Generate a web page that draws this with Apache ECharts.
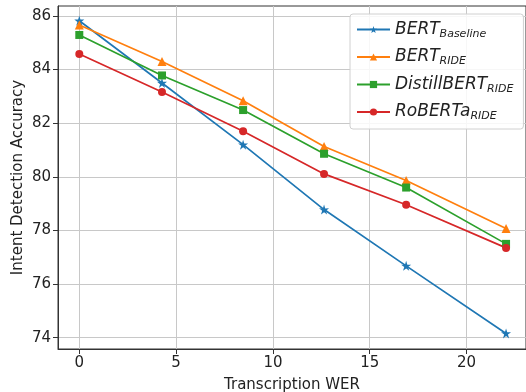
<!DOCTYPE html>
<html>
<head>
<meta charset="utf-8">
<script src="https://cdn.jsdelivr.net/npm/echarts@6/dist/echarts.min.js"></script>
<style>
  html, body { margin: 0; padding: 0; background: #fff; }
  #chart { width: 526px; height: 392px; }
</style>
</head>
<body>
<div id="chart"></div>
<script>
// transcription WER (x)
var werValues = [0, 4.27, 8.46, 12.64, 16.88, 22.04];
// accuracy per model
var bertBaseline = [85.82, 83.5, 81.2, 78.78, 76.68, 74.16];
var bertRide = [85.66, 84.3, 82.84, 81.13, 79.86, 78.07];
var distillRide = [85.29, 83.78, 82.49, 80.86, 79.6, 77.5];
var robertaRide = [84.58, 83.16, 81.7, 80.11, 78.96, 77.35];

var xTicks = [0, 5, 10, 15, 20];
var yTicks = [74, 76, 78, 80, 82, 84, 86];

var seriesNames = ["BERT_Baseline", "BERT_RIDE", "DistillBERT_RIDE", "RoBERTa_RIDE"];
var colors = ["#1f77b4", "#ff7f0e", "#2ca02c", "#d62728"];

var starPath = "path://M50 0 L61.17 34.63 L97.55 34.55 L68.07 55.87 L79.39 90.45 L50 69 L20.61 90.45 L31.93 55.87 L2.45 34.55 L38.83 34.63 Z";
var symbols = [starPath, "triangle", "rect", "circle"];
var symbolSizes = [10, 9, 8, 8];

function pairs(ys) {
  return werValues.map(function (x, i) { return [x, ys[i]]; });
}

var chart = echarts.init(document.getElementById("chart"));
var fontFam = "DejaVu Sans";

var allData = [bertBaseline, bertRide, distillRide, robertaRide];
var series = allData.map(function (ys, i) {
  return {
    name: seriesNames[i],
    type: "line",
    data: pairs(ys),
    symbol: symbols[i],
    symbolSize: symbolSizes[i],
    showAllSymbol: true,
    lineStyle: { color: colors[i], width: 1.7 },
    itemStyle: { color: colors[i] },
    emphasis: { disabled: true },
    animation: false
  };
});

chart.setOption({
  backgroundColor: "#fff",
  animation: false,
  grid: { left: 58, right: 0, top: 6, bottom: 43, containLabel: false,
    outerBoundsMode: "none",
    show: true, borderColor: "#333", borderWidth: 1 },
  xAxis: {
    type: "value",
    min: -1.1,
    max: 23.07,
    name: "Transcription WER",
    nameLocation: "middle",
    nameGap: 29,
    nameTextStyle: { fontFamily: fontFam, fontSize: 15, color: "#222" },
    axisLine: { show: true, onZero: false, lineStyle: { color: "#333", width: 1 } },
    axisTick: { show: true, inside: false, length: 5, customValues: xTicks, lineStyle: { color: "#333" } },
    axisLabel: { customValues: xTicks, fontFamily: fontFam, fontSize: 15, color: "#222", margin: 7 },
    splitLine: { show: true, lineStyle: { color: "#c8c8c8", width: 1 } }
  },
  yAxis: {
    type: "value",
    min: 73.58,
    max: 86.37,
    name: "Intent Detection Accuracy",
    nameLocation: "middle",
    nameGap: 32,
    nameMoveOverlap: false,
    nameRotate: 90,
    nameTextStyle: { fontFamily: fontFam, fontSize: 15, color: "#222" },
    axisLine: { show: true, onZero: false, lineStyle: { color: "#333", width: 1 } },
    axisTick: { show: true, inside: false, length: 5, customValues: yTicks, lineStyle: { color: "#333" } },
    axisLabel: { customValues: yTicks, fontFamily: fontFam, fontSize: 15, color: "#222", margin: 7 },
    splitLine: { show: true, lineStyle: { color: "#c8c8c8", width: 1 } }
  },
  legend: {
    orient: "vertical",
    left: 350,
    top: 14,
    width: 175,
    padding: [7, 10, 7, 6],
    itemGap: 9,
    itemWidth: 33,
    itemHeight: 9,
    backgroundColor: "rgba(255,255,255,0.85)",
    borderColor: "#d0d0d0",
    borderWidth: 1,
    borderRadius: 3,
    data: seriesNames,
    formatter: function (name) {
      var parts = name.split("_");
      return "{m|" + parts[0] + "}{s|" + parts[1] + "}";
    },
    textStyle: {
      fontFamily: fontFam,
      color: "#222",
      rich: {
        m: { fontFamily: fontFam, fontStyle: "italic", fontSize: 17, color: "#222", lineHeight: 20 },
        s: { fontFamily: fontFam, fontStyle: "italic", fontSize: 11, color: "#222", padding: [9, 0, 0, 0] }
      }
    }
  },
  series: series
});
</script>
</body>
</html>
